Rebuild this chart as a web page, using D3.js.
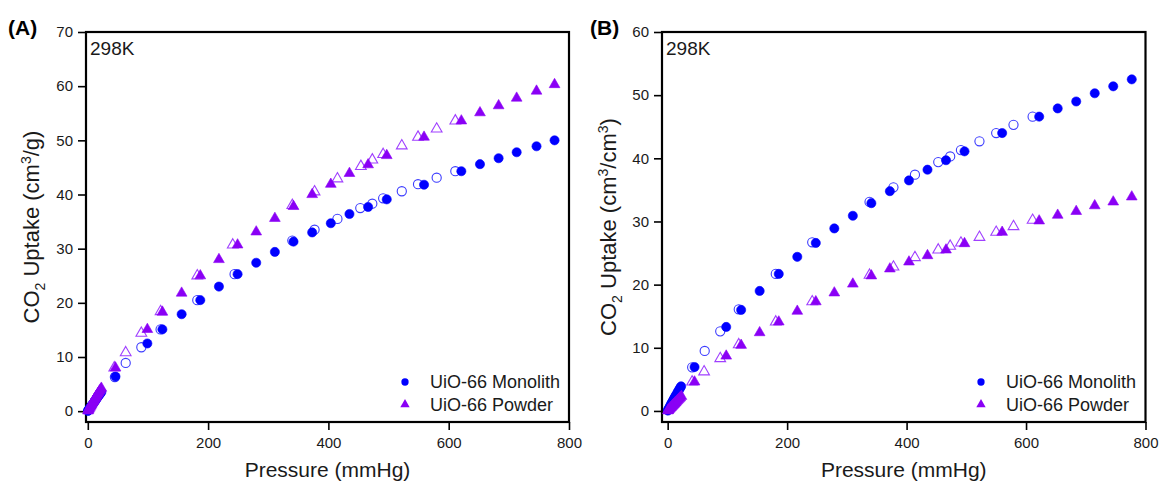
<!DOCTYPE html>
<html>
<head>
<meta charset="utf-8">
<script src="https://cdn.jsdelivr.net/npm/d3@7"></script>
<style>
  html, body { margin: 0; padding: 0; background: #fff; }
  svg { display: block; font-family: "Liberation Sans", Arial, sans-serif; }
</style>
</head>
<body>
<div id="chart"></div>
<script>
// ---- data ----
// panel A (cm3/g)
const aMonoAdsP = [0.3, 0.8, 1.5, 2.5, 3.5, 4.5, 5.5, 6.5, 7.5, 8.5, 9.5, 10.5, 11.5, 12.5, 13.5, 15, 16.5, 18, 19.5, 21, 22.5,
  46, 99, 124, 156, 187, 218, 249, 280, 311, 342, 373, 404, 435, 466, 497, 559, 621, 652, 683, 713, 746, 776];
const aMonoAdsV = [0.05, 0.15, 0.27, 0.42, 0.58, 0.74, 0.9, 1.05, 1.2, 1.36, 1.52, 1.67, 1.82, 1.98, 2.13, 2.38, 2.62, 2.86, 3.08, 3.3, 3.55,
  6.4, 12.5, 15.1, 17.9, 20.5, 23.0, 25.3, 27.4, 29.4, 31.3, 33.0, 34.7, 36.4, 37.7, 39.1, 41.8, 44.3, 45.6, 46.7, 47.8, 48.9, 50.0];
const aMonoDesP = [45, 63, 89, 121, 182, 244, 340, 377, 415, 453, 473, 491, 522, 549, 580, 611];
const aMonoDesV = [6.3, 8.9, 11.8, 15.1, 20.5, 25.3, 31.5, 33.5, 35.5, 37.5, 38.3, 39.3, 40.6, 41.9, 43.1, 44.3];
const aPowdAdsP = [0.3, 0.8, 1.5, 2.5, 3.5, 4.5, 5.5, 6.5, 7.5, 8.5, 9.5, 10.5, 11.5, 12.5, 13.5, 15, 16.5, 18, 19.5, 21, 22.5,
  46, 99, 124, 156, 187, 218, 249, 280, 311, 342, 373, 404, 435, 466, 497, 559, 621, 652, 683, 713, 746, 776];
const aPowdAdsV = [0.06, 0.17, 0.32, 0.52, 0.72, 0.92, 1.12, 1.32, 1.52, 1.72, 1.91, 2.1, 2.29, 2.48, 2.66, 2.93, 3.2, 3.47, 3.73, 3.98, 4.25,
  8.0, 15.1, 18.3, 21.8, 25.0, 28.0, 30.7, 33.1, 35.6, 37.8, 40.0, 41.9, 43.9, 45.5, 47.2, 50.6, 53.6, 55.1, 56.4, 57.8, 59.1, 60.3];
const aPowdDesP = [44, 63, 89, 121, 182, 241, 340, 377, 415, 454, 473, 491, 522, 549, 580, 611];
const aPowdDesV = [8.0, 10.8, 14.4, 18.4, 25.0, 30.7, 38.0, 40.5, 42.9, 45.2, 46.4, 47.4, 49.0, 50.6, 52.1, 53.6];

// panel B (cm3/cm3)
const bMonoAdsP = [0.3, 0.8, 1.5, 2.5, 3.5, 4.5, 5.5, 6.5, 7.5, 8.5, 9.5, 10.5, 11.5, 12.5, 13.5, 15, 16.5, 18, 19.5, 21, 22.5,
  45, 98, 123, 154, 186, 217, 248, 279, 310, 341, 372, 404, 435, 466, 497, 560, 622, 653, 684, 715, 746, 777];
const bMonoAdsV = [0.06, 0.17, 0.3, 0.48, 0.66, 0.84, 1.02, 1.2, 1.38, 1.55, 1.72, 1.9, 2.07, 2.24, 2.41, 2.66, 2.92, 3.17, 3.42, 3.66, 3.9,
  6.95, 13.3, 16.0, 19.0, 21.7, 24.4, 26.6, 28.9, 30.9, 32.9, 34.8, 36.5, 38.2, 39.7, 41.1, 44.0, 46.6, 47.9, 49.0, 50.3, 51.4, 52.5];
const bMonoDesP = [41, 62, 88, 119, 181, 242, 338, 378, 414, 453, 473, 491, 522, 550, 579, 611];
const bMonoDesV = [6.9, 9.5, 12.6, 16.1, 21.7, 26.7, 33.1, 35.4, 37.4, 39.4, 40.3, 41.3, 42.7, 44.0, 45.3, 46.6];
const bPowdAdsP = [0.3, 0.8, 1.5, 2.5, 3.5, 4.5, 5.5, 6.5, 7.5, 8.5, 9.5, 10.5, 11.5, 12.5, 13.5, 15, 16.5, 18, 19.5, 21, 23,
  45, 98, 123, 154, 186, 217, 248, 279, 310, 341, 372, 404, 435, 466, 497, 560, 622, 653, 684, 715, 746, 777];
const bPowdAdsV = [0.03, 0.09, 0.16, 0.27, 0.37, 0.47, 0.57, 0.67, 0.77, 0.87, 0.97, 1.07, 1.17, 1.27, 1.37, 1.52, 1.67, 1.82, 1.97, 2.12, 2.32,
  4.6, 8.7, 10.4, 12.4, 14.1, 15.8, 17.3, 18.7, 20.1, 21.4, 22.5, 23.6, 24.6, 25.5, 26.5, 28.3, 30.1, 31.0, 31.6, 32.5, 33.1, 33.9];
const bPowdDesP = [41, 61, 88, 119, 181, 242, 338, 378, 414, 453, 473, 491, 522, 550, 579, 611];
const bPowdDesV = [4.6, 6.2, 8.3, 10.5, 14.1, 17.3, 21.5, 22.8, 24.3, 25.5, 26.1, 26.6, 27.5, 28.3, 29.2, 30.2];

const xTicks = [0, 200, 400, 600, 800];
const aYTicks = [0, 10, 20, 30, 40, 50, 60, 70];
const bYTicks = [0, 10, 20, 30, 40, 50, 60];
const seriesNames = ["UiO-66 Monolith", "UiO-66 Powder"];

// ---- drawing ----
const W = 1159, H = 486;
const BLUE = "#0000ff", BLUE_OPEN = "#3c3cff";
const PURPLE = "#8a00f5", PURPLE_OPEN = "#a040ff";

const svg = d3.select("#chart").append("svg")
  .attr("width", W).attr("height", H)
  .attr("viewBox", `0 0 ${W} ${H}`);

const zip = (p, v) => p.map((d, i) => ({ p: d, v: v[i] }));

function panel(opt) {
  const x = d3.scaleLinear().domain(opt.xDomain).range([opt.left, opt.right]);
  const y = d3.scaleLinear().domain(opt.yDomain).range([opt.bottom, opt.top]);
  const g = svg.append("g");

  // x axis
  const xa = g.append("g").attr("transform", `translate(0,${opt.bottom})`)
    .call(d3.axisBottom(x).tickValues(xTicks).tickSize(8).tickPadding(7).tickSizeOuter(0));
  // y axis
  const ya = g.append("g").attr("transform", `translate(${opt.left},0)`)
    .call(d3.axisLeft(y).tickValues(opt.yTicks).tickSize(8).tickPadding(5).tickSizeOuter(0));
  [xa, ya].forEach(a => {
    a.select(".domain").remove();
    a.selectAll(".tick line").attr("stroke", "#000").attr("stroke-width", 1.6);
    a.selectAll(".tick text").attr("fill", "#1a1a1a").style("font-size", "15px")
      .style("font-family", "'Liberation Sans', Arial, sans-serif");
  });

  // frame
  g.append("rect")
    .attr("x", opt.left).attr("y", opt.top)
    .attr("width", opt.right - opt.left).attr("height", opt.bottom - opt.top)
    .attr("fill", "none").attr("stroke", "#000").attr("stroke-width", 2.2);

  const circ = d3.symbol().type(d3.symbolCircle).size(66);
  const tri = d3.symbol().type(d3.symbolTriangle).size(50);

  const layers = [
    { data: zip(opt.monoDesP, opt.monoDesV), sym: circ, fill: "#fff", stroke: BLUE_OPEN, open: true },
    { data: zip(opt.monoAdsP, opt.monoAdsV), sym: circ, fill: BLUE, stroke: BLUE, open: false },
    { data: zip(opt.powdDesP, opt.powdDesV), sym: tri, fill: "#fff", stroke: PURPLE_OPEN, open: true },
    { data: zip(opt.powdAdsP, opt.powdAdsV), sym: tri, fill: PURPLE, stroke: PURPLE, open: false }
  ];
  layers.forEach(L => {
    g.append("g").selectAll("path")
      .data(L.data)
      .join("path")
      .attr("d", L.sym)
      .attr("transform", d => `translate(${x(d.p)},${y(d.v)})`)
      .attr("fill", L.open ? "none" : L.fill)
      .attr("stroke", L.stroke)
      .attr("stroke-width", L.open ? 1.1 : 0.6);
  });

  // panel letter and temperature
  g.append("text").attr("x", opt.letterX).attr("y", 35)
    .style("font-size", "21px").style("font-weight", "bold").attr("fill", "#000")
    .text(opt.letter);
  g.append("text").attr("x", opt.left + 4).attr("y", 55)
    .style("font-size", "19px").attr("fill", "#1a1a1a").text("298K");

  // axis titles
  g.append("text")
    .attr("x", (opt.left + opt.right) / 2).attr("y", 477)
    .attr("text-anchor", "middle").style("font-size", "21px").attr("fill", "#1a1a1a")
    .text("Pressure (mmHg)");

  const yt = g.append("text")
    .attr("transform", `translate(${opt.yTitleX},${(opt.top + opt.bottom) / 2}) rotate(-90)`)
    .attr("text-anchor", "middle").style("font-size", "22px").attr("fill", "#1a1a1a");
  yt.append("tspan").text("CO");
  yt.append("tspan").attr("dy", 6).style("font-size", "14px").text("2");
  yt.append("tspan").attr("dy", -6).text(" Uptake (cm");
  yt.append("tspan").attr("dy", -8).style("font-size", "14px").text("3");
  yt.append("tspan").attr("dy", 8).text(opt.unitRest);
  if (opt.unitSup) {
    yt.append("tspan").attr("dy", -8).style("font-size", "14px").text("3");
    yt.append("tspan").attr("dy", 8).text(")");
  }

  // legend
  const lg = g.append("g");
  seriesNames.forEach((name, i) => {
    const ly = 382 + i * 22.5;
    lg.append("path")
      .attr("d", d3.symbol().type(i === 0 ? d3.symbolCircle : d3.symbolTriangle).size(i === 0 ? 42 : 38))
      .attr("transform", `translate(${opt.legendX},${ly})`)
      .attr("fill", i === 0 ? BLUE : PURPLE);
    lg.append("text")
      .attr("x", opt.legendX + 25).attr("y", ly + 6)
      .style("font-size", "18px").attr("fill", "#1a1a1a").text(name);
  });
}

panel({
  left: 86, right: 569, top: 32, bottom: 422,
  xDomain: [-3, 800], yDomain: [-2, 70], yTicks: aYTicks,
  monoAdsP: aMonoAdsP, monoAdsV: aMonoAdsV, monoDesP: aMonoDesP, monoDesV: aMonoDesV,
  powdAdsP: aPowdAdsP, powdAdsV: aPowdAdsV, powdDesP: aPowdDesP, powdDesV: aPowdDesV,
  letter: "(A)", letterX: 8, yTitleX: 39, unitRest: "/g)", unitSup: false,
  legendX: 405
});

panel({
  left: 662, right: 1145.5, top: 32, bottom: 422,
  xDomain: [-9.5, 800], yDomain: [-1.75, 60], yTicks: bYTicks,
  monoAdsP: bMonoAdsP, monoAdsV: bMonoAdsV, monoDesP: bMonoDesP, monoDesV: bMonoDesV,
  powdAdsP: bPowdAdsP, powdAdsV: bPowdAdsV, powdDesP: bPowdDesP, powdDesV: bPowdDesV,
  letter: "(B)", letterX: 590, yTitleX: 616, unitRest: "/cm", unitSup: true,
  legendX: 981
});
</script>
</body>
</html>
